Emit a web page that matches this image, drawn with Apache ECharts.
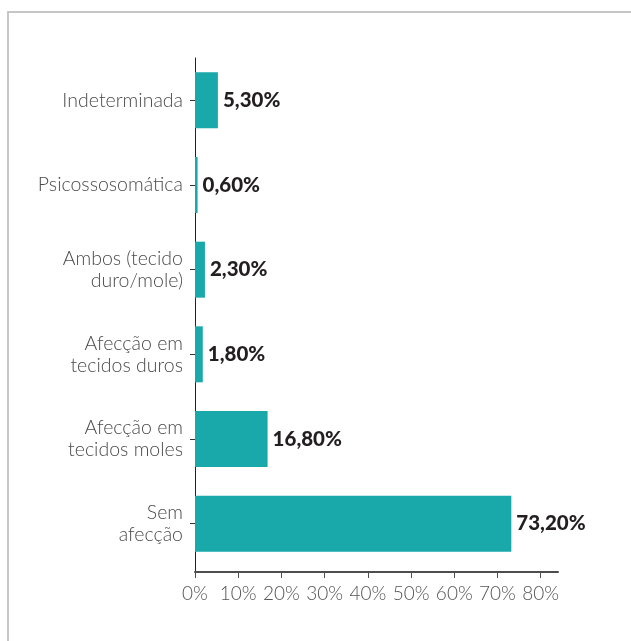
<!DOCTYPE html>
<html>
<head>
<meta charset="utf-8">
<script src="https://cdn.jsdelivr.net/npm/echarts@6/dist/echarts.min.js"></script>
<style>
  html, body { margin: 0; padding: 0; background: #fff; }
  #frame {
    position: absolute; left: 7px; top: 11px; width: 640px; height: 650px;
    border-left: 2px solid #c6c6c6; border-top: 2px solid #c6c6c6;
  }
  #chart { position: absolute; left: 0; top: 0; width: 631px; height: 641px; }
</style>
</head>
<body>
<div id="frame"></div>
<div id="chart"></div>
<script>
// Categories, top to bottom
const categories = [
  'Indeterminada',
  'Psicossosomática',
  'Ambos (tecido\nduro/mole)',
  'Afecção em\ntecidos duros',
  'Afecção em\ntecidos moles',
  'Sem\nafecção'
];
// Share of cases (%)
const values = [5.3, 0.6, 2.3, 1.8, 16.8, 73.2];
// Percentage ticks along the horizontal axis
const xTicks = [0, 10, 20, 30, 40, 50, 60, 70, 80];

const GRID = { left: 195, right: 73, top: 58, bottom: 75 };
const X_OFFSET = 6;
const FONT = 'Lato, "Open Sans", sans-serif';

const chart = echarts.init(document.getElementById('chart'), null, { renderer: 'canvas' });

chart.setOption({
  animation: false,
  backgroundColor: 'transparent',
  grid: GRID,
  xAxis: {
    type: 'value',
    min: 0,
    max: 84,
    interval: 10,
    offset: X_OFFSET,
    splitLine: { show: false },
    axisLine: { show: true, lineStyle: { color: '#4d4d4d', width: 2 } },
    axisTick: {
      show: true, length: 6, customValues: xTicks,
      lineStyle: { color: '#4d4d4d', width: 1 }
    },
    axisLabel: {
      customValues: xTicks,
      formatter: v => v + '%',
      margin: 12,
      fontFamily: FONT, fontWeight: 300, fontSize: 19, color: '#555'
    }
  },
  yAxis: {
    type: 'category',
    data: categories,
    inverse: true,
    axisLine: { show: true, lineStyle: { color: '#222', width: 1 } },
    axisTick: { show: true, alignWithLabel: true, length: 5, lineStyle: { color: '#333' } },
    axisLabel: {
      margin: 12,
      fontFamily: FONT, fontWeight: 300, fontSize: 19.5, lineHeight: 22,
      color: '#4a4a4a', align: 'right'
    }
  },
  series: [{
    type: 'bar',
    data: values,
    barWidth: 56,
    itemStyle: { color: '#1aa9ab' },
    label: {
      show: true,
      position: 'right',
      distance: 5,
      formatter: p => p.value.toFixed(2).replace('.', ',') + '%',
      fontFamily: FONT, fontWeight: 900, fontSize: 20.5, color: '#231f20'
    }
  }]
});

// Continue the category axis line down to the offset value axis
const axisX = chart.convertToPixel({ xAxisIndex: 0 }, 0);
const gridBottom = 641 - GRID.bottom;
chart.setOption({
  graphic: [{
    type: 'line',
    shape: { x1: axisX + 0.5, y1: gridBottom, x2: axisX + 0.5, y2: gridBottom + X_OFFSET },
    style: { stroke: '#222', lineWidth: 1 },
    silent: true
  }]
});
</script>
</body>
</html>
